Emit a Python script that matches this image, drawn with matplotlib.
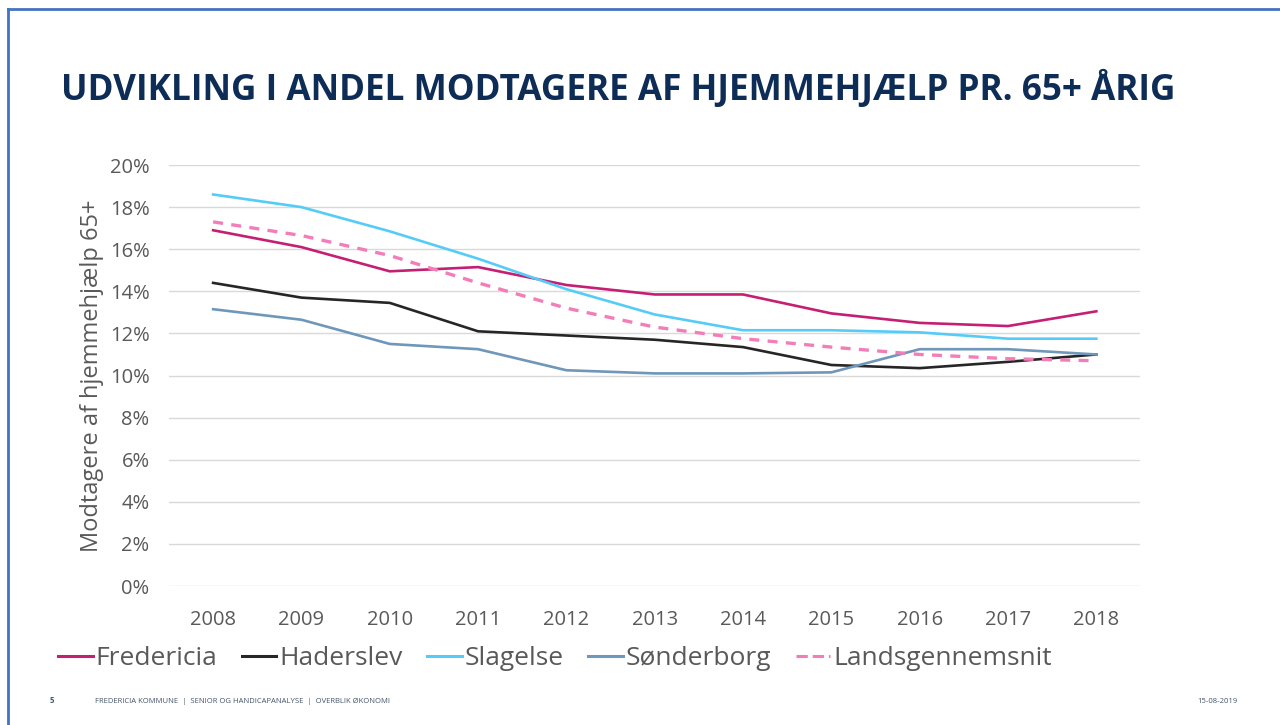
import matplotlib.pyplot as plt
from matplotlib.lines import Line2D
from matplotlib.ticker import FuncFormatter

years = ['2008', '2009', '2010', '2011', '2012', '2013', '2014', '2015', '2016', '2017', '2018']
fredericia = [16.9, 16.1, 14.95, 15.15, 14.3, 13.85, 13.85, 12.95, 12.5, 12.35, 13.05]
haderslev = [14.4, 13.7, 13.45, 12.1, 11.9, 11.7, 11.35, 10.5, 10.35, 10.65, 11.0]
slagelse = [18.6, 18.0, 16.85, 15.55, 14.1, 12.9, 12.15, 12.15, 12.05, 11.75, 11.75]
sonderborg = [13.15, 12.65, 11.5, 11.25, 10.25, 10.1, 10.1, 10.15, 11.25, 11.25, 11.0]
landsgennemsnit = [17.3, 16.65, 15.7, 14.4, 13.2, 12.3, 11.75, 11.35, 11.0, 10.8, 10.7]

names = ['Fredericia', 'Haderslev', 'Slagelse', 'Sønderborg', 'Landsgennemsnit']
series = [fredericia, haderslev, slagelse, sonderborg, landsgennemsnit]
colors = ['#C51F74', '#262626', '#55CCF7', '#6F97BA', '#F27DB8']
styles = ['-', '-', '-', '-', '--']

plt.rcParams['font.family'] = ['Open Sans', 'DejaVu Sans']

fig = plt.figure(figsize=(12.8, 7.25), dpi=100)
ax = fig.add_axes([0.132, 0.1917, 0.759, 0.5807])

x = range(len(years))
for vals, name, c, ls in zip(series, names, colors, styles):
    if ls == '--':
        ax.plot(x, vals, color=c, lw=2.4, ls=(0, (3, 2.5)), label=name)
    else:
        ax.plot(x, vals, color=c, lw=1.9, label=name)

ax.set_xlim(-0.5, len(years) - 0.5)
ax.set_ylim(0, 20)
ax.set_yticks(range(0, 21, 2))
ax.yaxis.set_major_formatter(FuncFormatter(lambda v, p: '%d%%' % v))
ax.set_xticks(list(x))
ax.set_xticklabels(years)
ax.grid(axis='y', color='#D9D9D9', lw=1)
ax.set_axisbelow(True)
for s in ax.spines.values():
    s.set_visible(False)
ax.tick_params(length=0, labelsize=14.5, labelcolor='#595959')
ax.tick_params(axis='y', pad=14)
ax.tick_params(axis='x', pad=17)
ax.set_ylabel('Modtagere af hjemmehjælp 65+', fontsize=17, color='#595959', labelpad=4)

handles = [Line2D([], [], color=c, lw=2.2, ls=('--' if ls == '--' else '-')) for c, ls in zip(colors, styles)]
fig.legend(handles, names, loc='center left', bbox_to_anchor=(0.027, 0.092), ncol=5,
           frameon=False, fontsize=19, handlelength=1.3, handletextpad=0.1,
           columnspacing=0.95, labelcolor='#595959')

fig.text(0.048, 0.862, 'UDVIKLING I ANDEL MODTAGERE AF HJEMMEHJÆLP PR. 65+ ÅRIG',
         fontsize=25.3, fontweight='bold', color='#0E2D56', va='baseline')

fig.text(0.039, 0.031, '5', fontsize=5.5, color='#44546A', fontweight='bold')
fig.text(0.074, 0.031, 'FREDERICIA KOMMUNE  |  SENIOR OG HANDICAPANALYSE  |  OVERBLIK ØKONOMI',
         fontsize=5.5, color='#44546A')
fig.text(0.967, 0.031, '15-08-2019', fontsize=5.5, color='#44546A', ha='right')

# slide frame
fig.add_artist(Line2D([0.006, 1.0], [0.988, 0.988], color='#4472C4', lw=2))
fig.add_artist(Line2D([0.006, 0.006], [0.0, 0.988], color='#4472C4', lw=2))

fig.savefig('out.png', dpi=100)
